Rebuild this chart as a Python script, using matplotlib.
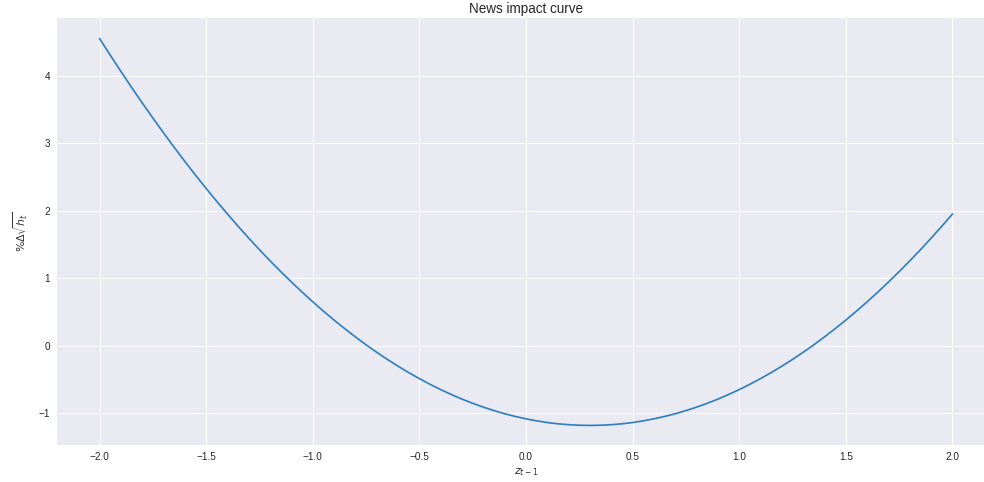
import matplotlib
matplotlib.use("Agg")
import matplotlib.pyplot as plt

z_values = [-2.0, -1.95, -1.9, -1.85, -1.8, -1.75, -1.7, -1.65, -1.6, -1.55,
            -1.5, -1.45, -1.4, -1.35, -1.3, -1.25, -1.2, -1.15, -1.1, -1.05,
            -1.0, -0.95, -0.9, -0.85, -0.8, -0.75, -0.7, -0.65, -0.6, -0.55,
            -0.5, -0.45, -0.4, -0.35, -0.3, -0.25, -0.2, -0.15, -0.1, -0.05,
            0.0, 0.05, 0.1, 0.15, 0.2, 0.25, 0.3, 0.35, 0.4, 0.45,
            0.5, 0.55, 0.6, 0.65, 0.7, 0.75, 0.8, 0.85, 0.9, 0.95,
            1.0, 1.05, 1.1, 1.15, 1.2, 1.25, 1.3, 1.35, 1.4, 1.45,
            1.5, 1.55, 1.6, 1.65, 1.7, 1.75, 1.8, 1.85, 1.9, 1.95, 2.0]
impact_values = [4.554, 4.308, 4.067, 3.831, 3.600, 3.376, 3.156, 2.942, 2.733, 2.530,
                 2.332, 2.140, 1.953, 1.771, 1.595, 1.424, 1.259, 1.099, 0.945, 0.796,
                 0.652, 0.514, 0.381, 0.254, 0.132, 0.015, -0.096, -0.202, -0.302, -0.397,
                 -0.486, -0.570, -0.649, -0.722, -0.790, -0.852, -0.909, -0.960, -1.007, -1.047,
                 -1.082, -1.112, -1.137, -1.156, -1.169, -1.177, -1.180, -1.177, -1.169, -1.156,
                 -1.137, -1.112, -1.082, -1.047, -1.007, -0.960, -0.909, -0.852, -0.790, -0.722,
                 -0.649, -0.570, -0.486, -0.397, -0.302, -0.202, -0.096, 0.015, 0.132, 0.254,
                 0.381, 0.514, 0.652, 0.796, 0.945, 1.099, 1.259, 1.424, 1.595, 1.771, 1.953]

plt.rcParams['font.family'] = ['Liberation Sans', 'DejaVu Sans']

W, H = 984, 482
fig = plt.figure(figsize=(W / 72, H / 72), dpi=72)
ax = fig.add_axes([57 / W, 37 / H, 938 / W, 427 / H])
ax.set_facecolor('#EAEAF2')
for s in ax.spines.values():
    s.set_visible(False)
ax.grid(True, color='white', linewidth=1.0)
ax.set_axisbelow(True)
ax.tick_params(length=0, labelsize=10, colors='#262626', pad=7)

ax.plot(z_values, impact_values, color='#2f7fc1', linewidth=1.7,
        solid_joinstyle='round')
ax.set_xlim(-2.2, 2.2)
ax.set_ylim(-1.47, 4.86)
ax.set_xticks([-2.0, -1.5, -1.0, -0.5, 0.0, 0.5, 1.0, 1.5, 2.0])
ax.set_yticks([-1, 0, 1, 2, 3, 4])

ax.set_title('News impact curve', fontsize=13.5, color='#262626', pad=5)
ax.set_xlabel(r'$z_{t-1}$', fontsize=11, color='#333333', labelpad=4)
ax.set_ylabel(r'$\%\Delta\sqrt{h_t}$', fontsize=11, color='#333333', labelpad=8)

fig.savefig('out.png', dpi=72)
